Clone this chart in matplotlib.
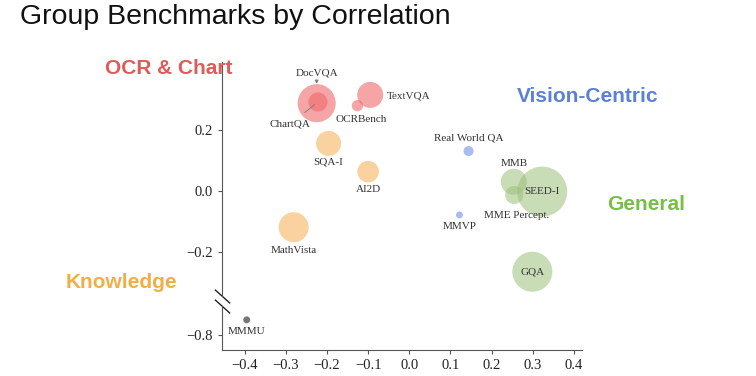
import matplotlib.pyplot as plt
from matplotlib.text import OffsetFrom

# benchmark data: correlation coordinates and bubble sizes
names = ['DocVQA', 'ChartQA', 'TextVQA', 'OCRBench',
         'SQA-I', 'AI2D', 'MathVista',
         'Real World QA', 'MMVP',
         'MMB', 'SEED-I', 'MME Percept.', 'GQA',
         'MMMU']
x_vals = [-0.225, -0.222, -0.095, -0.126,
          -0.196, -0.100, -0.281,
          0.144, 0.122,
          0.254, 0.323, 0.255, 0.299,
          -0.395]
y_vals = [0.286, 0.290, 0.313, 0.278,
          0.155, 0.063, -0.118,
          0.130, -0.078,
          0.030, -0.002, -0.013, -0.263,
          -0.751]
sizes = [750, 190, 350, 67,
         324, 242, 467,
         52, 25,
         350, 1296, 170, 830,
         25]
groups = ['ocr', 'ocr', 'ocr', 'ocr',
          'know', 'know', 'know',
          'vision', 'vision',
          'general', 'general', 'general', 'general',
          'other']

group_colors = {'ocr': '#ef6a6a', 'know': '#f5b55f', 'vision': '#93abec',
                'general': '#9cc07a', 'other': '#777777'}
group_alpha = {'ocr': 0.6, 'know': 0.6, 'vision': 0.8, 'general': 0.55, 'other': 1.0}

# label offsets in points (dx, dy)
offsets = {'DocVQA': (0, 22), 'ChartQA': (-20, -16), 'TextVQA': (12, -1),
           'OCRBench': (3, -10), 'SQA-I': (0, -13.5), 'AI2D': (0, -13),
           'MathVista': (0, -17), 'Real World QA': (0, 9.5), 'MMVP': (0, -8),
           'MMB': (0, 13.5), 'SEED-I': (0, 0), 'MME Percept.': (2, -15),
           'GQA': (0, 0), 'MMMU': (0, -8.5)}

fig = plt.figure(figsize=(7.56, 3.76), dpi=100)
ax_top = fig.add_axes([0.2937, 0.2128, 0.4763, 0.6222])
ax_bot = fig.add_axes([0.2937, 0.0691, 0.4763, 0.1171], sharex=ax_top)

serif = 'Liberation Serif'
for ax in (ax_top, ax_bot):
    for name, x, y, s, g in zip(names, x_vals, y_vals, sizes, groups):
        ax.scatter(x, y, s=s, color=group_colors[g], alpha=group_alpha[g],
                   edgecolors='none', zorder=2)
    ax.spines['top'].set_visible(False)
    ax.spines['right'].set_visible(False)
    ax.spines['left'].set_color('#555555')
    ax.spines['bottom'].set_color('#555555')
    ax.tick_params(colors='#555555', labelcolor='#222222', direction='out',
                   length=3, labelsize=10.5)

ax_top.set_xlim(-0.455, 0.42)
ax_top.set_ylim(-0.342, 0.42)
ax_bot.set_ylim(-0.849, -0.706)
ax_top.spines['bottom'].set_visible(False)
ax_top.tick_params(axis='x', bottom=False, labelbottom=False)
ax_top.set_yticks([-0.2, 0.0, 0.2])
ax_bot.set_yticks([-0.8])
ax_bot.set_xticks([-0.4, -0.3, -0.2, -0.1, 0.0, 0.1, 0.2, 0.3, 0.4])
for ax in (ax_top, ax_bot):
    for t in ax.get_xticklabels() + ax.get_yticklabels():
        t.set_fontfamily(serif)

# point labels
for name, x, y, g in zip(names, x_vals, y_vals, groups):
    ax = ax_bot if y < -0.5 else ax_top
    dx, dy = offsets[name]
    ha = 'left' if name == 'TextVQA' else 'center'
    if name == 'DocVQA':
        # short arrow from the label down to the top of the bubble
        ref = OffsetFrom(ax.transData, (x, y), unit='points')
        ax.annotate(name, xy=(0, 14), xycoords=ref, xytext=(0, dy - 14),
                    textcoords='offset points', ha='center', va='center',
                    fontsize=8, family=serif, color='#333333',
                    arrowprops=dict(arrowstyle='-|>', color='#777777', lw=0.6,
                                    mutation_scale=5, shrinkA=4, shrinkB=0))
    elif name == 'ChartQA':
        ax.annotate(name, (x, y), xytext=(dx, dy), textcoords='offset points',
                    ha='center', va='center', fontsize=8, family=serif, color='#333333',
                    arrowprops=dict(arrowstyle='-', color='#777777', lw=0.6,
                                    shrinkA=5, shrinkB=3))
    else:
        ax.annotate(name, (x, y), xytext=(dx, dy), textcoords='offset points',
                    ha=ha, va='center', fontsize=8, family=serif, color='#333333',
                    zorder=3)

# broken axis marks
mark = dict(marker=[(-1, 0.9), (1, -0.9)], markersize=11, linestyle='none',
            color='#222222', mec='#222222', mew=1.0, clip_on=False)
ax_top.plot([0], [0], transform=ax_top.transAxes, **mark)
ax_bot.plot([0], [1], transform=ax_bot.transAxes, **mark)

# title and group labels
fig.text(0.026, 0.955, 'Group Benchmarks by Correlation', fontsize=20.5,
         family='Liberation Sans', color='#111111', va='center', ha='left')
cat_labels = ['OCR & Chart', 'Vision-Centric', 'General', 'Knowledge']
cat_pos = [(169, 69), (588, 97), (646, 205), (121, 282)]
cat_colors = ['#e05a5a', '#5b80d6', '#78bf45', '#f0ae48']
for lab, (px, py), c in zip(cat_labels, cat_pos, cat_colors):
    fig.text(px / 756, 1 - py / 376, lab, fontsize=15, fontweight='bold',
             family='Liberation Sans', color=c, ha='center', va='center', zorder=5)

plt.savefig('out.png', dpi=100)
